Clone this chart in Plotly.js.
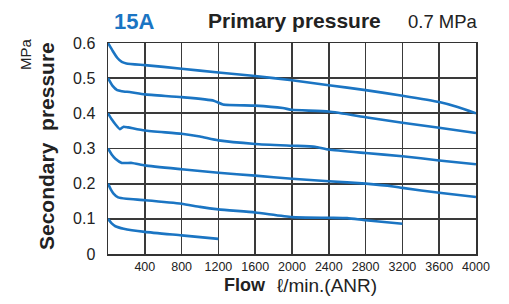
<!DOCTYPE html>
<html>
<head>
<meta charset="utf-8">
<script src="https://cdn.plot.ly/plotly-3.0.1.min.js"></script>
<style>html,body{margin:0;padding:0;background:#fff;}#chart{width:509px;height:304px;}</style>
</head>
<body>
<div id="chart"></div>
<script>
// Flow (l/min ANR) and secondary pressure (MPa) for each set pressure
const flow06 = [0, 50, 100, 150, 200, 400, 800, 1200, 1600, 2000, 2400, 2800, 3200, 3600, 3800, 4000];
const press06 = [0.600, 0.578, 0.558, 0.546, 0.542, 0.537, 0.527, 0.516, 0.506, 0.494, 0.480, 0.466, 0.450, 0.432, 0.418, 0.400];

const flow05 = [0, 50, 100, 150, 250, 400, 800, 1150, 1250, 1600, 1900, 2000, 2400, 2800, 3200, 3600, 4000];
const press05 = [0.500, 0.478, 0.466, 0.463, 0.460, 0.454, 0.446, 0.436, 0.425, 0.422, 0.415, 0.410, 0.405, 0.389, 0.373, 0.359, 0.344];

const flow04 = [0, 40, 80, 130, 170, 220, 400, 800, 1000, 1200, 1600, 2000, 2250, 2400, 2800, 3200, 3600, 4000];
const press04 = [0.400, 0.383, 0.369, 0.355, 0.362, 0.360, 0.351, 0.342, 0.334, 0.323, 0.313, 0.308, 0.305, 0.297, 0.287, 0.278, 0.266, 0.255];

const flow03 = [0, 40, 80, 150, 260, 400, 800, 1200, 1600, 2000, 2400, 2800, 3100, 3200, 3600, 4000];
const press03 = [0.300, 0.283, 0.271, 0.259, 0.259, 0.252, 0.241, 0.231, 0.223, 0.214, 0.207, 0.200, 0.192, 0.188, 0.174, 0.162];

const flow02 = [0, 30, 60, 110, 200, 400, 800, 1000, 1200, 1600, 2000, 2400, 2600, 2800, 3200];
const press02 = [0.200, 0.184, 0.172, 0.161, 0.157, 0.153, 0.143, 0.134, 0.127, 0.118, 0.105, 0.103, 0.102, 0.096, 0.086];

const flow01 = [0, 40, 80, 170, 400, 800, 1200];
const press01 = [0.100, 0.087, 0.079, 0.072, 0.063, 0.053, 0.043];

const xTickVals = [400, 800, 1200, 1600, 2000, 2400, 2800, 3200, 3600, 4000];
const xTickText = ['400', '800', '1200', '1600', '2000', '2400', '2800', '3200', '3600', '4000'];
const yTickVals = [0, 0.1, 0.2, 0.3, 0.4, 0.5, 0.6];
const yTickText = ['0', '0.1', '0.2', '0.3', '0.4', '0.5', '0.6'];

const chartTitle = '15A';
const primaryLabel = 'Primary pressure';
const primaryValue = '0.7 MPa';
const yTitle = 'Secondary&nbsp;&nbsp;pressure';
const yUnit = 'MPa';
const xTitle = 'Flow';
const xUnit = 'ℓ/min.(ANR)';

const blue = '#1b75c3';
const gridColor = '#3a3a3a';
const xMin = 0, xMax = 4000, yMin = 0, yMax = 0.6;

const series = [[flow06, press06], [flow05, press05], [flow04, press04], [flow03, press03], [flow02, press02], [flow01, press01]];
const curveTraces = series.map(s => ({
  x: s[0], y: s[1], type: 'scatter', mode: 'lines',
  line: {color: blue, width: 2.6, shape: 'spline', smoothing: 0.5},
  hoverinfo: 'skip', showlegend: false
}));

const L = 108, R = 33, T = 43, B = 50, W = 509, H = 304;
const pw = W - L - R, ph = H - T - B;
const px = v => (v - L) / pw;
const py = v => (H - B - v) / ph;
const font = 'Arial, "Liberation Sans", Helvetica, sans-serif';

const layout = {
  width: W, height: H,
  margin: {l: L, r: R, t: T, b: B, pad: 0},
  paper_bgcolor: '#ffffff', plot_bgcolor: '#ffffff',
  font: {family: font, color: '#222'},
  xaxis: {
    range: [xMin, xMax], tickmode: 'array', tickvals: xTickVals, ticktext: xTickText,
    showgrid: true, gridcolor: gridColor, gridwidth: 1.7,
    showline: true, linecolor: '#333', linewidth: 1.5, mirror: true,
    zeroline: false, ticks: '',
    tickfont: {size: 12.5, color: '#222', family: font}, fixedrange: true
  },
  yaxis: {
    range: [yMin, yMax], tickmode: 'array', tickvals: yTickVals, ticktext: yTickText,
    showgrid: true, gridcolor: gridColor, gridwidth: 1.7,
    showline: true, linecolor: '#333', linewidth: 1.5, mirror: true,
    zeroline: false, ticks: '', ticklabelstandoff: 8,
    tickfont: {size: 16, color: '#222', family: font}, fixedrange: true
  },
  annotations: [
    {text: '<b>' + chartTitle + '</b>', xref: 'paper', yref: 'paper', x: px(112), y: py(22), xanchor: 'left', yanchor: 'middle', showarrow: false, font: {size: 22, color: blue, family: font}},
    {text: '<b>' + primaryLabel + '</b>', xref: 'paper', yref: 'paper', x: px(206), y: py(20), xanchor: 'left', yanchor: 'middle', showarrow: false, font: {size: 21, color: '#222', family: font}},
    {text: primaryValue, xref: 'paper', yref: 'paper', x: px(406), y: py(22), xanchor: 'left', yanchor: 'middle', showarrow: false, font: {size: 18.5, color: '#222', family: font}},
    {text: '<b>' + yTitle + '</b>', xref: 'paper', yref: 'paper', x: px(46), y: py(146), xanchor: 'center', yanchor: 'middle', textangle: -90, showarrow: false, font: {size: 21, color: '#222', family: font}},
    {text: yUnit, xref: 'paper', yref: 'paper', x: px(25), y: py(54), xanchor: 'center', yanchor: 'middle', textangle: -90, showarrow: false, font: {size: 15, color: '#222', family: font}},
    {text: '<b>' + xTitle + '</b>', xref: 'paper', yref: 'paper', x: px(222), y: py(285), xanchor: 'left', yanchor: 'middle', showarrow: false, font: {size: 18, color: '#222', family: font}},
    {text: xUnit, xref: 'paper', yref: 'paper', x: px(275), y: py(285), xanchor: 'left', yanchor: 'middle', showarrow: false, font: {size: 19, color: '#222', family: font}}
  ]
};

Plotly.newPlot('chart', curveTraces, layout, {displayModeBar: false, staticPlot: true});
</script>
</body>
</html>
